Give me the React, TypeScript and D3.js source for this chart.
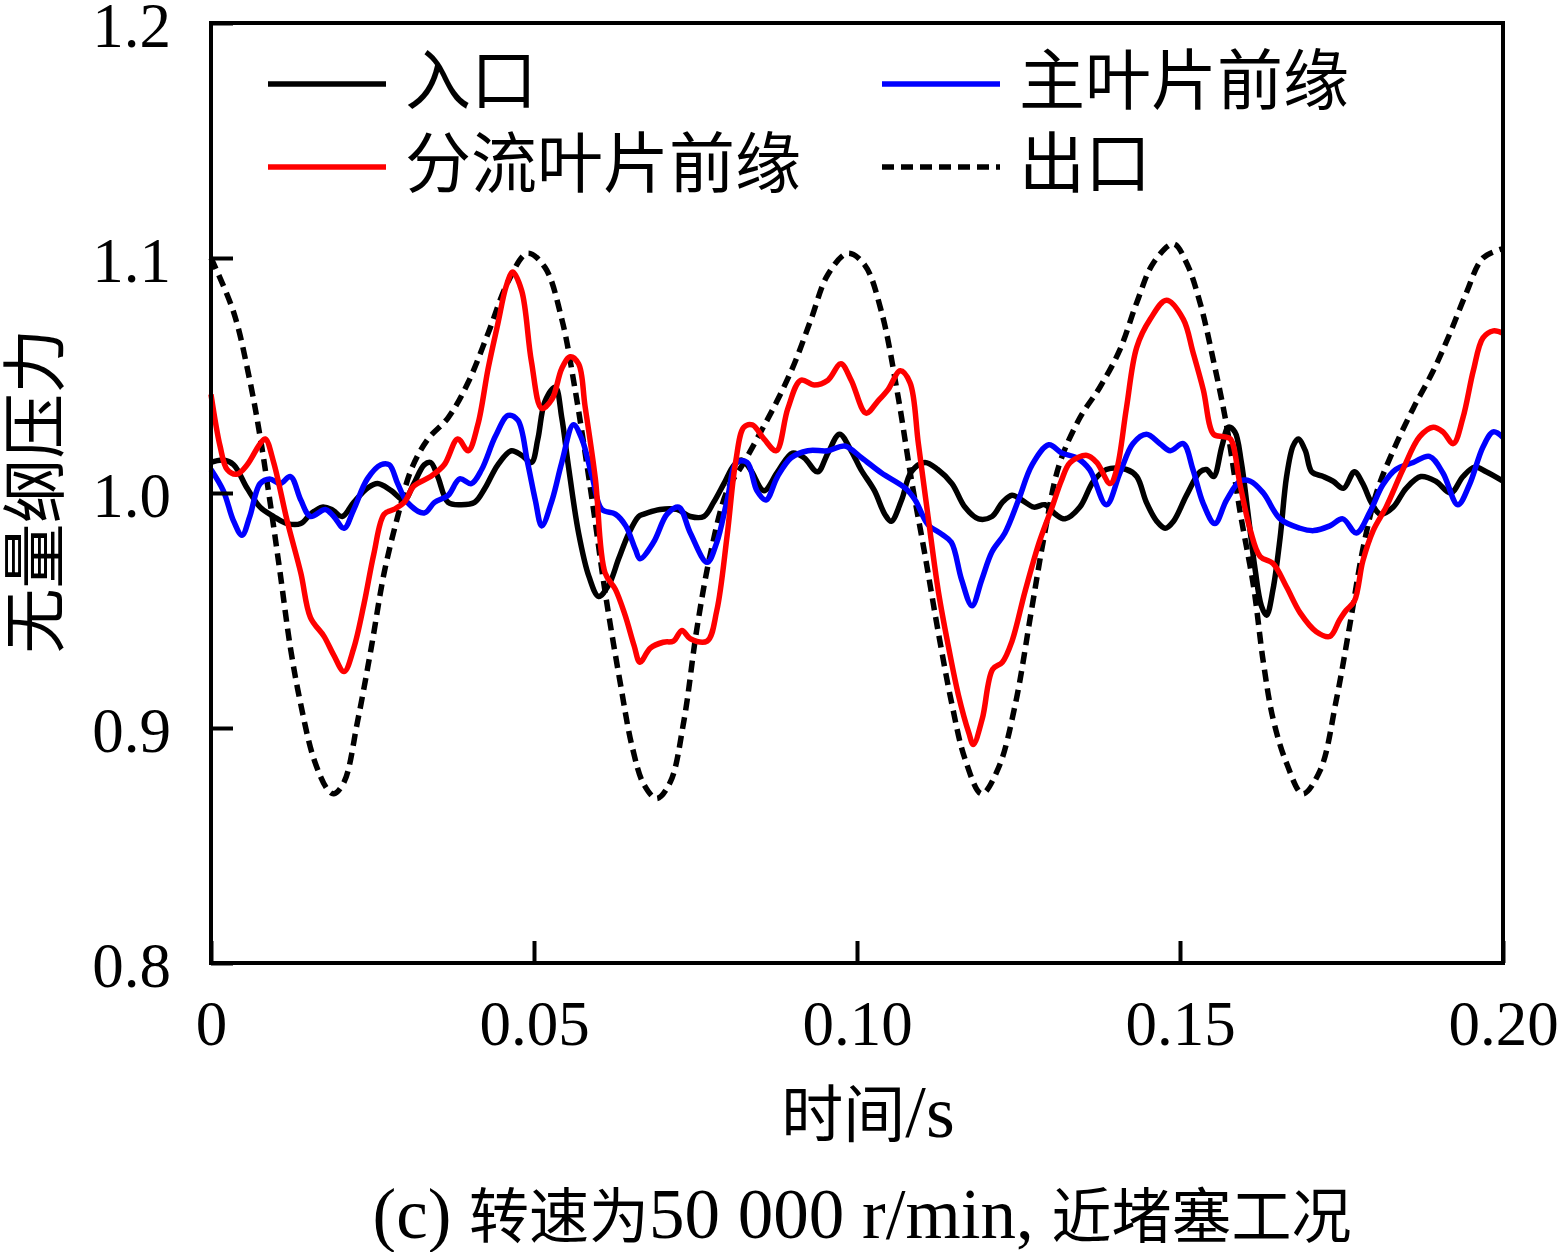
import { useEffect, useRef } from "react"
import * as d3 from "d3"

// time (s), dimensionless pressure
const inletData: [number, number][] = [
  [0, 1.013], [0.0019, 1.014], [0.0035, 1.012], [0.0056, 1.002], [0.0076, 0.994], [0.0097, 0.99], [0.0118, 0.987],
  [0.0139, 0.987], [0.0154, 0.991], [0.0172, 0.994], [0.0187, 0.993], [0.0203, 0.99], [0.0221, 0.996], [0.0242, 1.002],
  [0.0258, 1.004], [0.0279, 1.001], [0.0299, 0.997], [0.0314, 1.004], [0.033, 1.012], [0.034, 1.013], [0.0351, 1.007],
  [0.0367, 0.996], [0.0387, 0.995], [0.0408, 0.996], [0.0424, 1.002], [0.0444, 1.012], [0.0465, 1.018], [0.0481, 1.016],
  [0.0496, 1.013], [0.0506, 1.023], [0.0517, 1.039], [0.0533, 1.045], [0.0543, 1.032], [0.0553, 1.012], [0.0569, 0.983],
  [0.0585, 0.9645], [0.06, 0.956], [0.0616, 0.961], [0.0631, 0.972], [0.0647, 0.983], [0.0662, 0.99], [0.067, 0.991],
  [0.0695, 0.993], [0.0721, 0.993], [0.0742, 0.99], [0.0763, 0.99], [0.0778, 0.996], [0.0794, 1.004], [0.081, 1.012],
  [0.0822, 1.014], [0.0835, 1.01], [0.0856, 1.001], [0.0877, 1.009], [0.09, 1.017], [0.0918, 1.015], [0.0939, 1.009],
  [0.0955, 1.017], [0.0973, 1.025], [0.0991, 1.018], [0.1006, 1.01], [0.1027, 1.001], [0.1043, 0.991], [0.1053, 0.988],
  [0.1069, 0.997], [0.1084, 1.009], [0.1105, 1.013], [0.1125, 1.01], [0.1147, 1.004], [0.1167, 0.994], [0.1188, 0.989],
  [0.1209, 0.99], [0.1225, 0.996], [0.124, 0.999], [0.1255, 0.997], [0.1274, 0.994], [0.1291, 0.995], [0.1307, 0.991],
  [0.1322, 0.989], [0.1345, 0.994], [0.1366, 1.005], [0.1386, 1.01], [0.1417, 1.01], [0.1433, 1.007], [0.1448, 0.996],
  [0.1464, 0.988], [0.1477, 0.985], [0.149, 0.988], [0.151, 0.999], [0.1531, 1.009], [0.1541, 1.01], [0.1552, 1.007],
  [0.1565, 1.02], [0.1575, 1.028], [0.1585, 1.026], [0.1595, 1.013], [0.1605, 0.992], [0.1616, 0.968], [0.1626, 0.952],
  [0.1634, 0.948], [0.1644, 0.959], [0.1655, 0.981], [0.1665, 1.007], [0.1675, 1.02], [0.1683, 1.023], [0.1694, 1.018],
  [0.1704, 1.009], [0.1722, 1.007], [0.1737, 1.005], [0.1753, 1.002], [0.177, 1.009], [0.1783, 1.004], [0.1796, 0.996],
  [0.181, 0.991], [0.183, 0.994], [0.185, 1.002], [0.1873, 1.007], [0.1896, 1.005], [0.1919, 1.0], [0.1938, 1.007],
  [0.1956, 1.011], [0.1974, 1.009], [0.2, 1.005],
]

const mainBladeData: [number, number][] = [
  [0, 1.01], [0.0019, 1.001], [0.0035, 0.988], [0.0048, 0.982], [0.006, 0.99], [0.0076, 1.004], [0.0091, 1.006],
  [0.0107, 1.004], [0.0123, 1.007], [0.0139, 0.997], [0.0154, 0.99], [0.0177, 0.993], [0.019, 0.99], [0.0206, 0.985],
  [0.0221, 0.993], [0.0242, 1.006], [0.0263, 1.012], [0.0276, 1.012], [0.0289, 1.004], [0.0304, 0.996], [0.033, 0.9915],
  [0.0346, 0.996], [0.0367, 0.999], [0.0385, 1.006], [0.0403, 1.004], [0.0419, 1.01], [0.044, 1.024], [0.046, 1.033],
  [0.0475, 1.031], [0.049, 1.013], [0.0502, 0.997], [0.0512, 0.986], [0.0528, 0.997], [0.0543, 1.013], [0.0561, 1.029],
  [0.0574, 1.023], [0.059, 1.007], [0.0605, 0.993], [0.0626, 0.991], [0.0642, 0.986], [0.0657, 0.976], [0.0664, 0.972],
  [0.0685, 0.979], [0.0706, 0.991], [0.0724, 0.994], [0.0742, 0.983], [0.0768, 0.9705], [0.0783, 0.979], [0.0799, 0.997],
  [0.0814, 1.013], [0.083, 1.013], [0.0845, 1.001], [0.0859, 0.997], [0.0877, 1.007], [0.0898, 1.015], [0.0924, 1.018],
  [0.0955, 1.018], [0.0981, 1.02], [0.1007, 1.015], [0.1038, 1.0085], [0.1075, 1.002], [0.109, 0.997], [0.111, 0.9865],
  [0.1131, 0.9825], [0.1146, 0.979], [0.1162, 0.963], [0.1178, 0.952], [0.1193, 0.963], [0.1209, 0.975], [0.1229, 0.983],
  [0.125, 0.997], [0.1271, 1.012], [0.1297, 1.0205], [0.1317, 1.017], [0.134, 1.015], [0.136, 1.01], [0.1386, 0.995],
  [0.1407, 1.0085], [0.1427, 1.021], [0.1448, 1.025], [0.1469, 1.021], [0.1485, 1.018], [0.1505, 1.021], [0.152, 1.01],
  [0.1536, 0.9955], [0.1554, 0.987], [0.1572, 0.997], [0.1593, 1.005], [0.1609, 1.005], [0.1629, 1.0], [0.1655, 0.989],
  [0.1686, 0.985], [0.1707, 0.984], [0.1732, 0.986], [0.1752, 0.989], [0.1773, 0.983], [0.1794, 0.992], [0.1814, 1.0035],
  [0.1834, 1.01], [0.1861, 1.013], [0.1886, 1.0156], [0.1907, 1.0085], [0.193, 0.995], [0.1948, 1.0035], [0.1969, 1.0196],
  [0.1985, 1.026], [0.2, 1.0236],
]

const splitterData: [number, number][] = [
  [0, 1.042], [0.0014, 1.02], [0.0025, 1.01], [0.004, 1.008], [0.0056, 1.012], [0.0076, 1.021], [0.0084, 1.023],
  [0.0097, 1.013], [0.0118, 0.988], [0.0139, 0.966], [0.0154, 0.947], [0.0175, 0.939], [0.019, 0.931], [0.0206, 0.924],
  [0.0221, 0.934], [0.0237, 0.953], [0.0252, 0.974], [0.0268, 0.991], [0.0283, 0.993], [0.0299, 0.996], [0.0314, 1.003],
  [0.034, 1.007], [0.0361, 1.012], [0.0382, 1.023], [0.0398, 1.018], [0.0413, 1.029], [0.0429, 1.053], [0.0444, 1.072],
  [0.0457, 1.088], [0.0467, 1.094], [0.0481, 1.086], [0.0496, 1.056], [0.0512, 1.036], [0.0528, 1.04], [0.0543, 1.053],
  [0.0556, 1.058], [0.0569, 1.055], [0.0579, 1.037], [0.0595, 1.006], [0.061, 0.966], [0.0626, 0.959], [0.0641, 0.948],
  [0.0655, 0.935], [0.0664, 0.928], [0.068, 0.934], [0.07, 0.9365], [0.0716, 0.937], [0.0729, 0.9415], [0.0742, 0.938],
  [0.0768, 0.937], [0.0783, 0.95], [0.0799, 0.982], [0.0812, 1.013], [0.0825, 1.028], [0.0838, 1.029], [0.0856, 1.023],
  [0.0875, 1.018], [0.0893, 1.036], [0.0913, 1.048], [0.0934, 1.046], [0.0955, 1.048], [0.0975, 1.055], [0.0991, 1.048],
  [0.1014, 1.034], [0.1032, 1.039], [0.1048, 1.044], [0.1067, 1.052], [0.1082, 1.047], [0.1095, 1.021], [0.111, 0.99],
  [0.1126, 0.958], [0.1142, 0.934], [0.1157, 0.914], [0.1173, 0.898], [0.118, 0.893], [0.1194, 0.904], [0.121, 0.925],
  [0.1225, 0.928], [0.124, 0.937], [0.126, 0.958], [0.1282, 0.979], [0.1302, 0.994], [0.1316, 1.005], [0.133, 1.013],
  [0.1356, 1.016], [0.1371, 1.013], [0.1392, 1.004], [0.1402, 1.01], [0.1417, 1.036], [0.1433, 1.062], [0.1454, 1.074],
  [0.1479, 1.082], [0.1505, 1.074], [0.152, 1.06], [0.1536, 1.044], [0.1552, 1.025], [0.1567, 1.024], [0.1578, 1.023],
  [0.1593, 1.0035], [0.1609, 0.984], [0.1624, 0.973], [0.1644, 0.97], [0.1665, 0.96], [0.1686, 0.949], [0.1711, 0.941],
  [0.1732, 0.939], [0.1747, 0.946], [0.1757, 0.95], [0.177, 0.954], [0.1783, 0.971], [0.1799, 0.984], [0.1819, 0.994],
  [0.1845, 1.01], [0.1871, 1.024], [0.1892, 1.028], [0.1907, 1.026], [0.1923, 1.021], [0.1938, 1.032], [0.1954, 1.052],
  [0.1969, 1.066], [0.1985, 1.069], [0.2, 1.068],
]

const outletData: [number, number][] = [
  [0, 1.1], [0.0035, 1.077], [0.006, 1.048], [0.0076, 1.024], [0.0091, 0.997], [0.0107, 0.966], [0.0123, 0.934],
  [0.0139, 0.91], [0.0159, 0.887], [0.018, 0.874], [0.019, 0.872], [0.0206, 0.877], [0.0227, 0.903], [0.0248, 0.934],
  [0.0268, 0.966], [0.0289, 0.99], [0.031, 1.01], [0.0336, 1.023], [0.0367, 1.032], [0.0398, 1.047], [0.0429, 1.068],
  [0.046, 1.09], [0.049, 1.102], [0.0517, 1.096], [0.0543, 1.074], [0.0563, 1.045], [0.059, 0.997], [0.061, 0.958],
  [0.0633, 0.92], [0.0652, 0.892], [0.067, 0.876], [0.069, 0.87], [0.0711, 0.877], [0.0732, 0.903], [0.0752, 0.942],
  [0.0773, 0.974], [0.0799, 1.001], [0.0825, 1.013], [0.0851, 1.026], [0.0876, 1.039], [0.0903, 1.055], [0.0929, 1.074],
  [0.0955, 1.093], [0.0986, 1.102], [0.1012, 1.097], [0.1038, 1.077], [0.1063, 1.042], [0.1084, 1.006], [0.1105, 0.974],
  [0.1125, 0.942], [0.1147, 0.91], [0.1167, 0.887], [0.1193, 0.872], [0.1219, 0.883], [0.1245, 0.91], [0.127, 0.95],
  [0.129, 0.982], [0.1313, 1.012], [0.1345, 1.032], [0.1376, 1.045], [0.1407, 1.061], [0.1433, 1.081], [0.1459, 1.098],
  [0.149, 1.106], [0.151, 1.098], [0.1531, 1.081], [0.1552, 1.056], [0.1572, 1.029], [0.1593, 0.992], [0.1614, 0.96],
  [0.1629, 0.928], [0.1644, 0.904], [0.1665, 0.885], [0.169, 0.872], [0.1717, 0.882], [0.1742, 0.912], [0.1763, 0.944],
  [0.1783, 0.976], [0.1804, 1.0], [0.183, 1.018], [0.1861, 1.036], [0.1892, 1.052], [0.1918, 1.068], [0.1943, 1.085],
  [0.1969, 1.1], [0.2, 1.104],
]

const xTicks = [0, 0.05, 0.1, 0.15, 0.2]
const xTickLabels = ["0", "0.05", "0.10", "0.15", "0.20"]
const yTicks = [0.8, 0.9, 1.0, 1.1, 1.2]
const yTickLabels = ["0.8", "0.9", "1.0", "1.1", "1.2"]

const seriesNames = ["入口", "主叶片前缘", "分流叶片前缘", "出口"]
const seriesColors = ["#000000", "#0000ff", "#ff0000", "#000000"]
const seriesDashes = [null, null, null, "12,7"]
const seriesData = [inletData, mainBladeData, splitterData, outletData]
// dashed first so the solid lines sit on top
const drawOrder = [3, 0, 1, 2]

const xTitle = "时间/s"
const yTitle = "无量纲压力"
const caption = "(c) 转速为50 000 r/min, 近堵塞工况"

const FONT = "'Liberation Serif', 'Times New Roman', 'Noto Sans CJK SC', serif"

// split mixed text so latin runs can be set a bit larger than the CJK runs
function mixedText(
  sel: d3.Selection<SVGTextElement, unknown, null, undefined>,
  text: string,
  cjkSize: number,
  latinSize: number,
) {
  const runs = text.match(/[\u4e00-\u9fff]+|[^\u4e00-\u9fff]+/g) || []
  runs.forEach((run) => {
    const isCjk = /[\u4e00-\u9fff]/.test(run)
    sel
      .append("tspan")
      .attr("font-size", isCjk ? cjkSize : latinSize)
      .attr("xml:space", "preserve")
      .text(run)
  })
}

const App = () => {
  const svgRef = useRef<SVGSVGElement | null>(null)

  useEffect(() => {
    if (!svgRef.current) return
    const svg = d3.select(svgRef.current)
    svg.selectAll("*").remove()

    const left = 211
    const right = 1503
    const top = 23
    const bottom = 963

    const x = d3.scaleLinear().domain([0, 0.2]).range([left, right])
    const y = d3.scaleLinear().domain([0.8, 1.2]).range([bottom, top])

    svg.append("rect").attr("width", 1564).attr("height", 1252).attr("fill", "#fff")

    const line = d3
      .line<[number, number]>()
      .x((d) => x(d[0]))
      .y((d) => y(d[1]))
      .curve(d3.curveCatmullRom.alpha(0.5))

    const plot = svg.append("g")
    drawOrder.forEach((i) => {
      plot
        .append("path")
        .datum(seriesData[i])
        .attr("d", line)
        .attr("fill", "none")
        .attr("stroke", seriesColors[i])
        .attr("stroke-width", 5.5)
        .attr("stroke-linejoin", "round")
        .attr("stroke-dasharray", seriesDashes[i])
    })

    // axes, ticks pointing inward
    const xAxis = d3
      .axisBottom(x)
      .tickValues(xTicks)
      .tickSize(-22)
      .tickPadding(37)
      .tickFormat((_d, i) => xTickLabels[i])
    const gx = svg.append("g").attr("transform", `translate(0,${bottom})`).call(xAxis)
    gx.select(".domain").remove()
    gx.selectAll("line").attr("stroke", "#000").attr("stroke-width", 4)
    gx.selectAll("text").attr("font-family", FONT).attr("font-size", 63).attr("fill", "#000")

    const yAxis = d3
      .axisLeft(y)
      .tickValues(yTicks)
      .tickSize(-22)
      .tickPadding(40)
      .tickFormat((_d, i) => yTickLabels[i])
    const gy = svg.append("g").attr("transform", `translate(${left},0)`).call(yAxis)
    gy.select(".domain").remove()
    gy.selectAll("line").attr("stroke", "#000").attr("stroke-width", 4)
    gy.selectAll("text").attr("font-family", FONT).attr("font-size", 63).attr("fill", "#000").attr("dy", "0.38em")

    svg
      .append("rect")
      .attr("x", left)
      .attr("y", top)
      .attr("width", right - left)
      .attr("height", bottom - top)
      .attr("fill", "none")
      .attr("stroke", "#000")
      .attr("stroke-width", 4)

    // legend: two columns, two rows
    const legendCols = [268, 882]
    const legendRows = [84, 167]
    const legendSlots = [
      [0, 0],
      [1, 0],
      [0, 1],
      [1, 1],
    ]
    seriesNames.forEach((name, i) => {
      const [c, r] = legendSlots[i]
      const lx = legendCols[c]
      const ly = legendRows[r]
      svg
        .append("line")
        .attr("x1", lx)
        .attr("x2", lx + 118)
        .attr("y1", ly)
        .attr("y2", ly)
        .attr("stroke", seriesColors[i])
        .attr("stroke-width", 5.5)
        .attr("stroke-dasharray", seriesDashes[i])
      svg
        .append("text")
        .attr("x", lx + 137)
        .attr("y", ly - 4)
        .attr("dy", "0.36em")
        .attr("font-family", FONT)
        .attr("font-size", 66)
        .text(name)
    })

    const xt = svg
      .append("text")
      .attr("x", 868)
      .attr("y", 1137)
      .attr("text-anchor", "middle")
      .attr("font-family", FONT)
    mixedText(xt, xTitle, 62, 74)

    svg
      .append("text")
      .attr("transform", `translate(58,${(top + bottom) / 2 - 2}) rotate(-90)`)
      .attr("text-anchor", "middle")
      .attr("font-family", FONT)
      .attr("font-size", 65)
      .text(yTitle)

    const cap = svg
      .append("text")
      .attr("x", 862)
      .attr("y", 1238)
      .attr("text-anchor", "middle")
      .attr("font-family", FONT)
    mixedText(cap, caption, 60, 71)
  }, [])

  return (
    <svg
      ref={svgRef}
      width={1564}
      height={1252}
      style={{ position: "absolute", left: 0, top: 0, display: "block" }}
    />
  )
}

export default App
